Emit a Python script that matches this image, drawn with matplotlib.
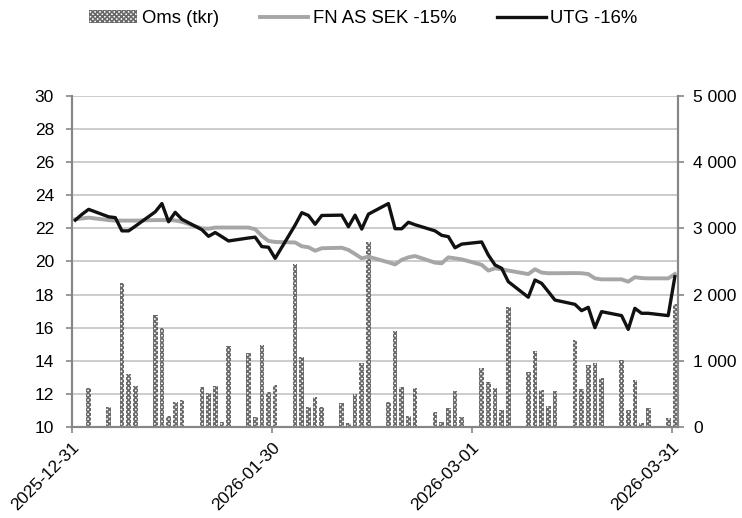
import matplotlib
matplotlib.use("Agg")
import matplotlib.pyplot as plt
import pandas as pd

plt.rcParams["font.family"] = ["Liberation Sans", "DejaVu Sans"]
plt.rcParams["hatch.linewidth"] = 1.2

# trading weekdays 2025-12-31 .. 2026-03-31 (01-01 and 01-06 are holidays, no turnover)
dates = pd.bdate_range("2025-12-31", "2026-03-31")

oms = [0, 0, 590,
       300, 0, 2170, 800, 620,
       1690, 1490, 170, 370, 410,
       600, 520, 620, 80, 1230,
       1120, 155, 1240, 530, 635,
       2460, 1060, 305, 460, 305,
       355, 55, 500, 960, 2800,
       370, 1450, 610, 170, 585,
       230, 80, 280, 550, 145,
       885, 675, 585, 255, 1820,
       825, 1150, 560, 315, 550,
       1315, 575, 935, 960, 735,
       1010, 255, 710, 65, 280,
       130, 1855]

fn_as_sek = [22.55, 22.6, 22.65,
             22.5, 22.47, 22.47, 22.47, 22.47,
             22.5, 22.5, 22.5, 22.48, 22.4,
             22.0, 21.98, 22.05, 22.05, 22.05,
             22.05, 21.95, 21.55, 21.24, 21.18,
             21.15, 20.92, 20.86, 20.65, 20.8,
             20.83, 20.7, 20.45, 20.19, 20.29,
             19.95, 19.82, 20.1, 20.25, 20.33,
             19.93, 19.89, 20.25, 20.19, 20.13,
             19.8, 19.45, 19.59, 19.53, 19.45,
             19.24, 19.53, 19.33, 19.29, 19.29,
             19.3, 19.29, 19.24, 18.98, 18.92,
             18.92, 18.78, 19.05, 19.0, 18.98,
             18.98, 19.24]

utg = [22.5, 22.85, 23.15,
       22.7, 22.65, 21.85, 21.85, 22.13,
       23.0, 23.5, 22.4, 22.97, 22.55,
       21.92, 21.52, 21.75, 21.5, 21.24,
       21.42, 21.47, 20.9, 20.86, 20.19,
       22.2, 22.95, 22.78, 22.25, 22.78,
       22.8, 22.1, 22.8, 21.96, 22.86,
       23.5, 21.98, 21.98, 22.37, 22.22,
       21.85, 21.58, 21.5, 20.83, 21.05,
       21.18, 20.39, 19.79, 19.59, 18.78,
       17.84, 18.88, 18.68, 18.18, 17.67,
       17.41, 17.03, 17.23, 16.0, 16.97,
       16.73, 15.9, 17.17, 16.87, 16.87,
       16.73, 19.08]

tick_dates = ["2025-12-31", "2026-01-30", "2026-03-01", "2026-03-31"]

start = pd.Timestamp("2025-12-31")
x = (dates - start).days + 0.5
ticks = [(pd.Timestamp(d) - start).days for d in tick_dates]

fig = plt.figure(figsize=(7.42, 5.18), dpi=100)
ax = fig.add_axes([0.097, 0.1757, 0.817, 0.639])
ax2 = ax.twinx()
ax.set_zorder(ax2.get_zorder() + 1)
ax.patch.set_visible(False)

bars = ax2.bar(x, oms, width=0.7, facecolor="white", edgecolor="#6a6a6a",
               hatch="xxxxxxx", linewidth=0, label="Oms (tkr)")
l1, = ax.plot(x, fn_as_sek, color="#a6a6a6", lw=2.8, label="FN AS SEK -15%")
l2, = ax.plot(x, utg, color="#111111", lw=2.4, label="UTG -16%")

grey = "#868686"
ax.set_xlim(0, 91)
ax.set_ylim(10, 30)
ax.set_yticks(range(10, 31, 2))
ax2.set_ylim(0, 5000)
ax2.set_yticks(range(0, 5001, 1000))
ax2.set_yticklabels([f"{v:,}".replace(",", " ") for v in range(0, 5001, 1000)])
ax2.set_yticks(range(0, 5001, 500), minor=True)
ax2.grid(True, which="both", axis="y", color="#c8c8c8", lw=1.3)
ax2.set_axisbelow(True)
ax2.tick_params(axis="y", which="minor", length=0)

ax.set_xticks(ticks)
ax.set_xticklabels(tick_dates, rotation=45, ha="right", rotation_mode="anchor")

for a in (ax, ax2):
    a.spines["top"].set_visible(False)
    for s in ("left", "right", "bottom"):
        a.spines[s].set_color(grey)
        a.spines[s].set_linewidth(1.5)
    a.tick_params(axis="both", which="major", color=grey, width=1.2, length=4,
                  labelsize=12.5, pad=5)
ax.tick_params(axis="y", pad=9)
ax2.tick_params(axis="y", pad=7)

fig.legend(handles=[bars, l1, l2], loc="upper center", bbox_to_anchor=(0.49, 1.012),
           ncol=3, frameon=False, fontsize=13.3, handlelength=2.6, columnspacing=2.2,
           handletextpad=0.27)

fig.savefig("out.png", dpi=100)
